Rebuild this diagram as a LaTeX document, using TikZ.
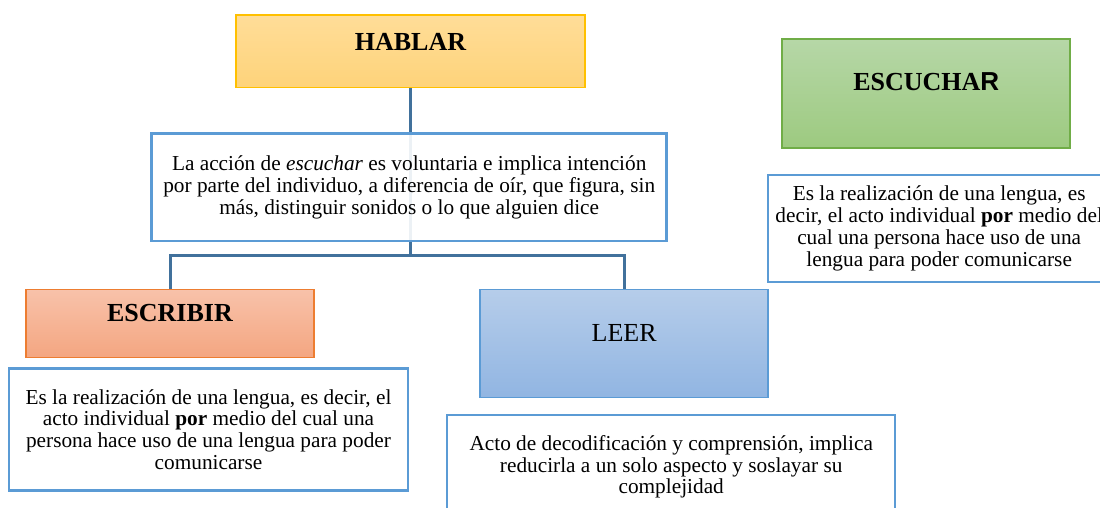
\documentclass[tikz,border=0pt]{standalone}
\usepackage{fontspec}
\setmainfont{Liberation Serif}
\newfontfamily\arialfont{Liberation Sans}
\definecolor{connc}{RGB}{65,113,156}
\definecolor{boxblue}{RGB}{91,155,213}
\definecolor{yelTop}{RGB}{255,221,152}
\definecolor{yelBot}{RGB}{254,211,122}
\definecolor{yelLine}{RGB}{255,192,0}
\definecolor{orTop}{RGB}{248,194,170}
\definecolor{orBot}{RGB}{244,166,129}
\definecolor{orLine}{RGB}{237,125,49}
\definecolor{bluTop}{RGB}{182,205,234}
\definecolor{bluBot}{RGB}{145,181,226}
\definecolor{grTop}{RGB}{182,215,167}
\definecolor{grBot}{RGB}{157,202,128}
\definecolor{grLine}{RGB}{112,173,71}
\tikzset{
  conn/.style={draw=connc, line width=3pt},
  txtbox/.style={draw=boxblue, line width=2.5pt, fill=white, align=center,
    font=\fontsize{21.3}{21.7}\selectfont, inner sep=0pt},
  titlebox/.style={line width=1.5pt, inner sep=0pt, minimum width=288pt},
  ttl/.style={font=\fontsize{26}{28}\selectfont\bfseries, anchor=base, inner sep=0pt},
}
\begin{document}
\begin{tikzpicture}[x=1pt,y=-1pt]
\useasboundingbox (0,0) rectangle (1100,507);
\clip (0,0) rectangle (1100,507);
\fill[white] (0,0) rectangle (1100,507);

% nodes (boxes)
\node[titlebox, draw=yelLine, top color=yelTop, bottom color=yelBot,
  minimum width=349pt, minimum height=72.5pt] (hablar) at (410.5,51.4) {};
\node[titlebox, draw=orLine, top color=orTop, bottom color=orBot,
  minimum height=68pt] (escribir) at (170,323.3) {};
\node[titlebox, draw=boxblue, top color=bluTop, bottom color=bluBot,
  minimum height=108pt] (leer) at (624.2,343.3) {};
\node[titlebox, draw=grLine, top color=grTop, bottom color=grBot,
  minimum height=108.7pt] (escuchar) at (926.2,93.4) {};

% connectors
\coordinate (j) at (410.5,255.7);
\draw[conn] (hablar.south) -- (j);
\draw[conn] (escribir.north) |- (j) -| (leer.north);

% text boxes
\node[txtbox, fill opacity=0.9, text opacity=1, minimum width=515pt, minimum height=107.7pt] (mid) at (409.2,187.2)
  {La acción de \textit{escuchar} es voluntaria e implica intención\\
   por parte del individuo, a diferencia de oír, que figura, sin\\
   más, distinguir sonidos o lo que alguien dice};
\node[txtbox, minimum width=399pt, minimum height=122.4pt] (escribirtxt) at (208.5,429.5)
  {Es la realización de una lengua, es decir, el\\
   acto individual \textbf{por} medio del cual una\\
   persona hace uso de una lengua para poder\\
   comunicarse};
\node[txtbox, minimum width=448pt, minimum height=104pt] (leertxt) at (671.2,467)
  {Acto de decodificación y comprensión, implica\\
   reducirla a un solo aspecto y soslayar su\\
   complejidad};
\node[txtbox, minimum width=342pt, minimum height=106.7pt] (escuchartxt) at (939.2,228.4)
  {Es la realización de una lengua, es\\
   decir, el acto individual \textbf{por} medio del\\
   cual una persona hace uso de una\\
   lengua para poder comunicarse};

% titles
\node[ttl] (hablarlbl) at (410.5,50) {HABLAR};
\node[ttl] (escribirlbl) at (170,321.7) {ESCRIBIR};
\node[ttl, font=\fontsize{26}{28}\selectfont] (leerlbl) at (624.2,341.7) {LEER};
\node[ttl] (escucharlbl) at (926.2,90.7) {ESCUCHA{\arialfont R}};
\end{tikzpicture}
\end{document}
